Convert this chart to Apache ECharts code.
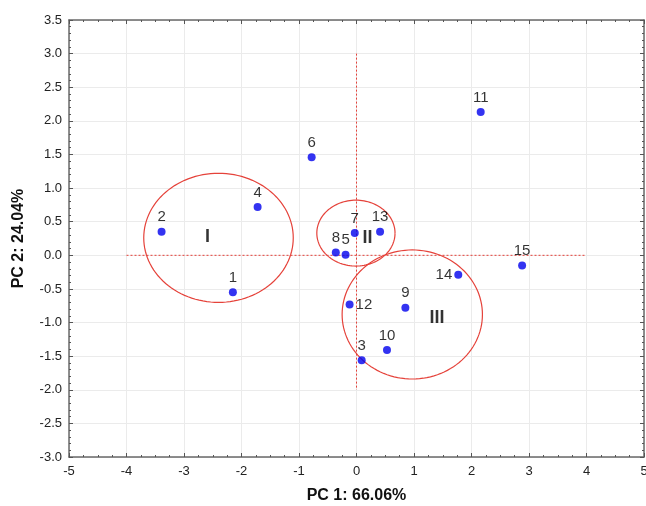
<!DOCTYPE html>
<html><head><meta charset="utf-8">
<script src="https://cdn.jsdelivr.net/npm/echarts@6/dist/echarts.min.js"></script>
<style>html,body{margin:0;padding:0;background:#fff}#c{width:646px;height:506px}</style>
</head><body><div id="c"></div>
<script>
// Data
var sampleIds = ['1','2','3','4','5','6','7','8','9','10','11','12','13','14','15'];
var pc1 = [-2.15,-3.39,0.09,-1.72,-0.19,-0.78,-0.03,-0.36,0.85,0.53,2.16,-0.12,0.41,1.77,2.88];
var pc2 = [-0.55,0.35,-1.56,0.72,0.01,1.46,0.33,0.04,-0.78,-1.41,2.13,-0.73,0.35,-0.29,-0.15];
var groupNames = ['I','II','III'];
var groupCx = [-2.40,-0.01,0.97];
var groupCy = [0.26,0.33,-0.88];
var groupRx = [1.30,0.68,1.22];
var groupRy = [0.96,0.49,0.96];
var groupLabelX = [-2.59,0.19,1.40];
var groupLabelY = [0.27,0.26,-0.93];
var xTicks = [-5,-4,-3,-2,-1,0,1,2,3,4,5];
var yTicks = [-3.0,-2.5,-2.0,-1.5,-1.0,-0.5,0.0,0.5,1.0,1.5,2.0,2.5,3.0,3.5];
var hLine = [[-4,0],[4,0]];
var vLine = [[0,3],[0,-2]];

var labelPos = {'12':'right','14':'left'};
var pts = sampleIds.map(function(id,i){
  return {value:[pc1[i],pc2[i]], name:id, label:{position: labelPos[id]||'top', distance: labelPos[id]?2:3}};
});
var ellData = groupNames.map(function(n,i){return [groupCx[i],groupCy[i],groupRx[i],groupRy[i]];});
var grpLbl = groupNames.map(function(n,i){return {value:[groupLabelX[i],groupLabelY[i]], name:n};});

var font = 'Liberation Sans, Arial, sans-serif';
var axisCommon = {
  axisLine:{show:true,onZero:false,lineStyle:{color:'#6a6a6a',width:1.5}},
  axisTick:{show:true,inside:true,length:4,lineStyle:{color:'#555'}},
  splitLine:{show:false}
};
function ax(o){return Object.assign({}, JSON.parse(JSON.stringify(axisCommon)), o);}

var chart = echarts.init(document.getElementById('c'));
chart.setOption({
  animation:false,
  grid:{left:69,top:20,right:2,bottom:49,containLabel:false,outerBoundsMode:'none'},
  xAxis:[
    ax({type:'value',position:'bottom',min:xTicks[0],max:xTicks[xTicks.length-1],interval:1,
      splitLine:{show:true,lineStyle:{color:'#ebebeb',width:1}},
      minorTick:{show:true,splitNumber:4,length:2,lineStyle:{color:'#555'}},
      axisLabel:{color:'#222',fontSize:13,fontFamily:font,margin:8},
      name:'PC 1: 66.06%',nameLocation:'middle',nameGap:31,
      nameTextStyle:{fontSize:16,fontWeight:'bold',color:'#111',fontFamily:font}}),
    ax({type:'value',position:'top',min:xTicks[0],max:xTicks[xTicks.length-1],interval:1,
      minorTick:{show:true,splitNumber:4,length:2,lineStyle:{color:'#555'}},
      axisLabel:{show:false}})
  ],
  yAxis:[
    ax({type:'value',position:'left',min:yTicks[0],max:yTicks[yTicks.length-1],interval:0.5,
      splitLine:{show:true,lineStyle:{color:'#ebebeb',width:1}},
      minorTick:{show:true,splitNumber:5,length:2,lineStyle:{color:'#555'}},
      axisLabel:{color:'#222',fontSize:13,fontFamily:font,margin:7,formatter:function(v){return v.toFixed(1);}},
      name:'PC 2: 24.04%',nameLocation:'middle',nameGap:42,
      nameTextStyle:{fontSize:16,fontWeight:'bold',color:'#111',fontFamily:font}}),
    ax({type:'value',position:'right',min:yTicks[0],max:yTicks[yTicks.length-1],interval:0.5,
      minorTick:{show:true,splitNumber:5,length:2,lineStyle:{color:'#555'}},
      axisLabel:{show:false}})
  ],
  series:[
    {type:'line',data:hLine,symbol:'none',silent:true,z:2,
      lineStyle:{color:'#e5423a',width:1,type:[2,2]}},
    {type:'line',data:vLine,symbol:'none',silent:true,z:2,
      lineStyle:{color:'#e5423a',width:1,type:[2,2]}},
    {type:'custom',data:ellData,z:3,silent:true,
      renderItem:function(params,api){
        var cx=api.value(0),cy=api.value(1),rx=api.value(2),ry=api.value(3);
        var p=[];
        for(var k=0;k<=120;k++){
          var t=k/120*Math.PI*2;
          p.push(api.coord([cx+rx*Math.cos(t),cy+ry*Math.sin(t)]));
        }
        return {type:'polyline',shape:{points:p},style:{stroke:'#e5423a',lineWidth:1.2,fill:null}};
      }},
    {type:'scatter',data:pts,symbol:'circle',symbolSize:8,z:5,
      itemStyle:{color:'#0000ee'},
      label:{show:true,formatter:'{b}',color:'#000',fontSize:15,fontFamily:font}},
    {type:'scatter',data:grpLbl,symbolSize:0,z:6,silent:true,
      label:{show:true,position:'inside',formatter:'{b}',color:'#000',fontSize:18,fontWeight:'bold',fontFamily:font}}
  ]
});
</script></body></html>
